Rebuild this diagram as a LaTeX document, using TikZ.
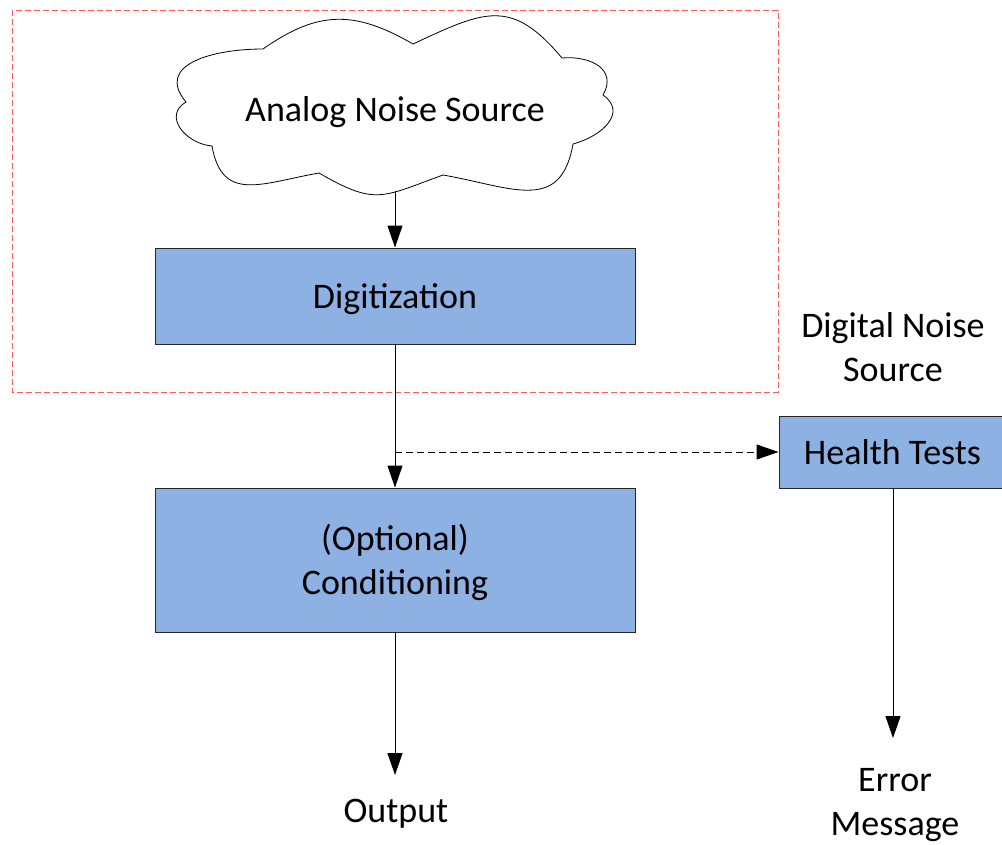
\documentclass[tikz,border=0pt]{standalone}
\usepackage{fontspec}
\setmainfont{Carlito}
\usetikzlibrary{arrows.meta}
\definecolor{boxblue}{RGB}{142,177,227}
\definecolor{redline}{RGB}{255,90,90}
\begin{document}
\begin{tikzpicture}[x=1pt,y=1pt,
  every node/.style={font=\fontsize{36}{44}\selectfont, align=center},
  box/.style={draw=black!85, line width=1pt, fill=boxblue, inner sep=0pt},
  tip/.style={-{Triangle[length=22pt,width=15pt]}},
  arr/.style={line width=1pt, tip},
  lbl/.style={inner sep=0pt}]
\useasboundingbox (0,0) rectangle (1002,-844);
\clip (0,0) rectangle (1002,-844);
% dashed red frame
\draw[redline, line width=1pt, dash pattern=on 6pt off 3pt] (12,-10) rectangle (778,-392);
% cloud
\draw[line width=0.8pt, fill=white, looseness=1.35]
  (186,-102) to[out=130,in=180] (263,-49)
  to[out=35,in=150,looseness=1.15] (413,-44)
  to[out=25,in=130] (562,-58)
  to[out=5,in=60] (603,-95)
  to[out=-35,in=15] (573,-144)
  to[out=-100,in=-10] (443,-175)
  to[out=-160,in=-30] (319,-173)
  to[out=-170,in=-80] (212,-146)
  to[out=175,in=-150] (186,-102) -- cycle;
\node[lbl, anchor=base] (cloudtxt) at (395,-121) {Analog Noise Source};
\coordinate (cloudbot) at (395,-191);
% boxes
\node[box, minimum width=480pt, minimum height=96pt, text height=31pt, text depth=7pt] (dig) at (395,-296) {Digitization};
\node[box, minimum width=480pt, minimum height=144pt, text depth=1pt] (cond) at (395,-560) {(Optional)\\Conditioning};
\node[box, minimum width=227pt, minimum height=72pt, text height=31pt, text depth=7pt] (health) at (892.5,-452) {Health Tests};
% labels
\node[lbl, anchor=base] (dns) at (893,-381) {Digital Noise\\Source};
\node[lbl, anchor=base] (out) at (396,-822) {Output};
\coordinate (outtip) at (395,-775);
\node[lbl, anchor=base] (err) at (895,-835) {Error\\Message};
\coordinate (errtip) at (893,-738);
\coordinate (tap) at (395,-452);
% connectors
\draw[arr] (cloudbot) -- (dig.north);
\draw[arr] (dig.south) -- (cond.north);
\draw[line width=1pt, dash pattern=on 7pt off 4pt, tip] (tap) -- (health.west);
\draw[arr] (cond.south) -- (outtip);
\draw[arr] (health.south -| errtip) -- (errtip);
\end{tikzpicture}
\end{document}
